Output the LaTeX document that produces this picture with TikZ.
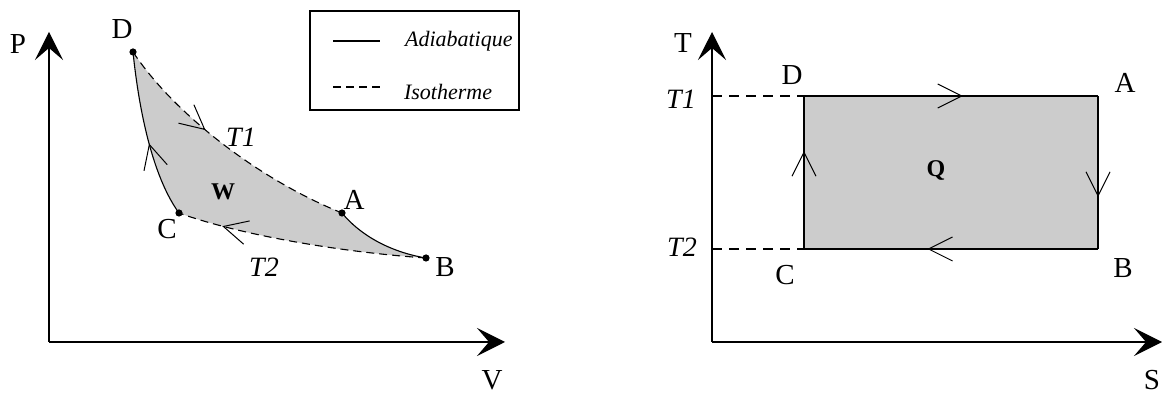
\documentclass[tikz,border=0pt]{standalone}
\usepackage{fontspec}
\setmainfont{Liberation Serif}
\usetikzlibrary{arrows.meta,decorations.markings}

\begin{document}
\begin{tikzpicture}[
  x=0.5pt, y=-0.5pt,
  >=Stealth,
  pt label/.style   = {font=\fontsize{14.5}{17}\selectfont},
  temp label/.style = {font=\fontsize{14}{16}\selectfont\itshape},
  work label/.style = {font=\fontsize{12}{14}\selectfont\bfseries},
  leg label/.style  = {font=\fontsize{11}{13}\selectfont\itshape, anchor=west},
  axis line/.style  = {draw=black, line width=0.65pt,
                       -{Stealth[length=14pt, width=14pt, inset=6pt]}},
  adiab/.style      = {draw=black, line width=0.55pt},
  isoth/.style      = {draw=black, line width=0.55pt, dash pattern=on 4pt off 2.5pt},
  guide/.style      = {draw=black, line width=0.55pt, dash pattern=on 5pt off 3.5pt},
  cycle fill/.style = {fill=black!20},
  state dot/.style  = {fill=black},
  flow mark/.style  = {postaction={decorate}, decoration={markings,
      mark=at position #1 with {\arrow[solid, line width=0.5pt]{Straight Barb[length=12pt, width=12pt]}}}},
]

\useasboundingbox (0,0) rectangle (1162,394);

% ── P-V diagram ────────────────────────────────────────────────────────────
\coordinate (pO)    at (49,342);
\coordinate (pPtip) at (49,32);
\coordinate (pVtip) at (505,342);

% states of the cycle
\coordinate (pD) at (133,52);
\coordinate (pA) at (342,213);
\coordinate (pB) at (426,258);
\coordinate (pC) at (179,213);

% shaded work area
\fill[cycle fill] (pD) .. controls (175,115) and (260,180) .. (pA)
                       .. controls (360,235) and (390,252) .. (pB)
                       .. controls (340,252) and (240,235) .. (pC)
                       .. controls (155,180) and (140,120) .. (pD) -- cycle;

% branches: isotherms dashed, adiabats solid
\draw[isoth, flow mark=0.40] (pD) .. controls (175,115) and (260,180) .. (pA);
\draw[adiab]                 (pA) .. controls (360,235) and (390,252) .. (pB);
\draw[isoth, flow mark=0.82] (pB) .. controls (340,252) and (240,235) .. (pC);
\draw[adiab, flow mark=0.45] (pC) .. controls (155,180) and (140,120) .. (pD);

\foreach \s in {pD,pA,pB,pC}
  \fill[state dot] (\s) circle (1.8pt);

\draw[axis line] (pO) -- (pPtip);
\draw[axis line] (pO) -- (pVtip);

\node[pt label]   (labP)  at (18,44)   {P};
\node[pt label]   (labV)  at (492,380) {V};
\node[pt label]   (labpD) at (122,29)  {D};
\node[pt label]   (labpA) at (354,200) {A};
\node[pt label]   (labpC) at (167,229) {C};
\node[pt label]   (labpB) at (445,267) {B};
\node[temp label] (labpT1) at (241,137) {T1};
\node[temp label] (labpT2) at (264,267) {T2};
\node[work label] (labW)  at (223,192) {W};

% ── Legend ─────────────────────────────────────────────────────────────────
\coordinate (legNW) at (310,11);
\coordinate (legSE) at (519,110);
\draw[line width=0.6pt] (legNW) rectangle (legSE);

\coordinate (legAa) at (333,41);
\coordinate (legAb) at (380,41);
\coordinate (legIa) at (333,87);
\coordinate (legIb) at (380,87);
\draw[adiab] (legAa) -- (legAb);
\draw[isoth] (legIa) -- (legIb);
\node[leg label] (legAd) at (398,41) {Adiabatique};
\node[leg label] (legIs) at (397,92) {Isotherme};

% ── T-S diagram ────────────────────────────────────────────────────────────
\coordinate (sO)    at (712,342);
\coordinate (sTtip) at (712,32);
\coordinate (sStip) at (1162,342);

\coordinate (sD) at (804,96);
\coordinate (sA) at (1098,96);
\coordinate (sB) at (1098,249);
\coordinate (sC) at (804,249);

\fill[cycle fill] (sD) rectangle (sB);

\draw[adiab, flow mark=0.54] (sD) -- (sA);
\draw[adiab, flow mark=0.66] (sA) -- (sB);
\draw[adiab, flow mark=0.58] (sB) -- (sC);
\draw[adiab, flow mark=0.64] (sC) -- (sD);

% temperature levels
\draw[guide] (sTtip |- sD) -- (sD);
\draw[guide] (sTtip |- sC) -- (sC);

\draw[axis line] (sO) -- (sTtip);
\draw[axis line] (sO) -- (sStip);

\node[pt label]   (labT)   at (683,43)   {T};
\node[pt label]   (labS)   at (1152,380) {S};
\node[pt label]   (labsD)  at (792,75)   {D};
\node[pt label]   (labsA)  at (1125,83)  {A};
\node[pt label]   (labsC)  at (785,275)  {C};
\node[pt label]   (labsB)  at (1123,268) {B};
\node[temp label] (labsT1) at (681,99)   {T1};
\node[temp label] (labsT2) at (682,247)  {T2};
\node[work label] (labQ)   at (936,171)  {Q};

\end{tikzpicture}
\end{document}
